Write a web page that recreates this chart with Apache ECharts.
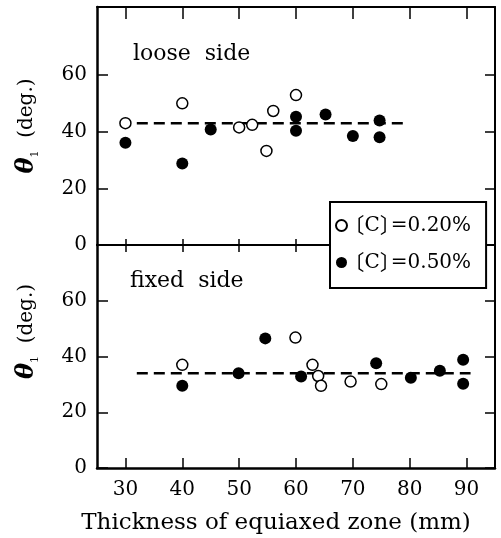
<!DOCTYPE html>
<html>
<head>
<meta charset="utf-8">
<style>
  html, body { margin: 0; padding: 0; background: #fff; }
  #chart { width: 501px; height: 538px; }
</style>
<script src="https://cdn.jsdelivr.net/npm/echarts@6/dist/echarts.min.js"></script>
</head>
<body>
<div id="chart"></div>
<script>
// Tick positions shared by both panels
const xTicks = [30, 40, 50, 60, 70, 80, 90];
const yTicks = [0, 20, 40, 60];

// Loose side: inclination angle θ1 (deg.) vs. equiaxed zone thickness (mm)
const looseC020 = [[30, 43], [40, 50], [50, 41.5], [52.3, 42.4], [54.8, 33.2], [56, 47.3], [60, 52.9]];
const looseC050 = [[30, 36.1], [40, 28.8], [45, 40.8], [60, 45.3], [60, 40.3], [65.2, 46.1], [70, 38.5], [74.7, 43.9], [74.7, 38]];
const looseMean = [[32, 43], [79.5, 43]];

// Fixed side
const fixedC020 = [[40, 37], [59.9, 46.8], [62.9, 37], [63.9, 33], [64.4, 29.5], [69.6, 31], [75, 30.1]];
const fixedC050 = [[40, 29.5], [49.9, 34], [54.6, 46.5], [60.9, 32.8], [74.1, 37.6], [80.2, 32.4], [85.3, 34.9], [89.4, 38.8], [89.4, 30.2]];
const fixedMean = [[32, 34], [90.7, 34]];

const nameC020 = '〔C〕=0.20%';
const nameC050 = '〔C〕=0.50%';

const SERIF = "'DejaVu Serif', 'Liberation Serif', serif";
const CJK = "'Noto Sans CJK JP', sans-serif";

function xAxisDef(grid, pos, tickLen, showLabels) {
  return {
    type: 'value', gridIndex: grid, position: pos, min: 25, max: 95,
    axisLine: { onZero: false, lineStyle: { color: '#000', width: pos === 'bottom' && grid === 1 ? 2.5 : 2 } },
    axisTick: { inside: true, length: tickLen, customValues: xTicks, lineStyle: { color: '#000', width: 1.5 } },
    axisLabel: {
      show: showLabels, customValues: xTicks, margin: 12,
      fontFamily: SERIF, fontSize: 20, color: '#000'
    },
    splitLine: { show: false }
  };
}

function yAxisDef(grid, pos, max, tickLen, showLabels) {
  return {
    type: 'value', gridIndex: grid, position: pos, min: 0, max: max,
    axisLine: { onZero: false, lineStyle: { color: '#000', width: pos === 'left' ? 2.5 : 2 } },
    axisTick: { inside: true, length: tickLen, customValues: yTicks, lineStyle: { color: '#000', width: 1.5 } },
    axisLabel: {
      show: showLabels, customValues: yTicks, margin: 10,
      fontFamily: SERIF, fontSize: 20, color: '#000'
    },
    splitLine: { show: false }
  };
}

const thetaName = '{t|θ}{s|1}{d|  (deg.)}';
const thetaRich = {
  t: { fontFamily: SERIF, fontStyle: 'italic', fontWeight: 'bold', fontSize: 24, color: '#000', lineHeight: 28 },
  s: { fontFamily: SERIF, fontSize: 11, color: '#000', verticalAlign: 'bottom', lineHeight: 14 },
  d: { fontFamily: SERIF, fontSize: 20, color: '#000', lineHeight: 28 }
};

const yTop = yAxisDef(0, 'left', 84, 11, true);
yTop.name = thetaName;
yTop.nameLocation = 'middle';
yTop.nameGap = 56;
yTop.nameTextStyle = { rich: thetaRich, padding: [0, 0, 0, 0] };

const yBottom = yAxisDef(1, 'left', 80, 11, true);
yBottom.name = thetaName;
yBottom.nameLocation = 'middle';
yBottom.nameGap = 56;
yBottom.nameTextStyle = { rich: thetaRich, padding: [0, 0, 0, 50] };

const xBottom = xAxisDef(1, 'bottom', 10, true);
xBottom.name = 'Thickness of equiaxed zone (mm)';
xBottom.nameLocation = 'middle';
xBottom.nameGap = 44;
xBottom.nameTextStyle = { fontFamily: SERIF, fontSize: 23, color: '#000', padding: [0, 40, 0, 0] };

const openStyle = { color: '#fff', borderColor: '#000', borderWidth: 1.5, opacity: 1 };
const filledStyle = { color: '#000', opacity: 1 };
const meanLine = { color: '#000', width: 2.5, type: [11, 6] };

// Legend entry: the full-width brackets are trimmed to their visible half
function legendLabel(name) {
  const m = name.match(/^〔(.*)〕(.*)$/);
  if (!m) return name;
  return '{lb|〔}{c|' + m[1] + '}{rb|〕}{v|' + m[2] + '}';
}

const chart = echarts.init(document.getElementById('chart'), null, { renderer: 'canvas' });
chart.setOption({
  animation: false,
  backgroundColor: '#fff',
  grid: [
    { left: 97, right: 6, top: 7, height: 238, containLabel: false },
    { left: 97, right: 6, top: 245, bottom: 70, containLabel: false }
  ],
  xAxis: [
    xAxisDef(0, 'bottom', 6, false),
    xAxisDef(0, 'top', 12, false),
    xBottom,
    xAxisDef(1, 'top', 7, false)
  ],
  yAxis: [
    yTop,
    yAxisDef(0, 'right', 84, 10, false),
    yBottom,
    yAxisDef(1, 'right', 80, 10, false)
  ],
  legend: {
    orient: 'vertical', left: 330, top: 202,
    padding: [13, 15, 15, 5], itemGap: 16,
    itemWidth: 16, itemHeight: 11,
    borderColor: '#000', borderWidth: 2, backgroundColor: '#fff',
    selectedMode: false,
    formatter: legendLabel,
    textStyle: {
      fontFamily: SERIF, fontSize: 20, color: '#000',
      rich: {
        lb: { fontFamily: CJK, fontSize: 21, color: '#000', padding: [0, 0, 0, -11] },
        c: { fontFamily: SERIF, fontSize: 20, color: '#000' },
        rb: { fontFamily: CJK, fontSize: 21, color: '#000', padding: [0, -10, 0, 0] },
        v: { fontFamily: SERIF, fontSize: 20, color: '#000' }
      }
    },
    data: [nameC020, nameC050]
  },
  graphic: [
    { type: 'text', left: 133, top: 43, style: { text: 'loose  side', font: "22px 'DejaVu Serif'", fill: '#000' } },
    { type: 'text', left: 130, top: 270, style: { text: 'fixed  side', font: "22px 'DejaVu Serif'", fill: '#000' } }
  ],
  series: [
    { name: 'loose mean', type: 'line', xAxisIndex: 0, yAxisIndex: 0, data: looseMean, symbol: 'none', lineStyle: meanLine, z: 1, silent: true },
    { name: nameC020, type: 'scatter', xAxisIndex: 0, yAxisIndex: 0, data: looseC020, symbol: 'circle', symbolSize: 11, itemStyle: openStyle, z: 3 },
    { name: nameC050, type: 'scatter', xAxisIndex: 0, yAxisIndex: 0, data: looseC050, symbol: 'circle', symbolSize: 12, itemStyle: filledStyle, z: 3 },
    { name: 'fixed mean', type: 'line', xAxisIndex: 2, yAxisIndex: 2, data: fixedMean, symbol: 'none', lineStyle: meanLine, z: 1, silent: true },
    { name: nameC020, type: 'scatter', xAxisIndex: 2, yAxisIndex: 2, data: fixedC020, symbol: 'circle', symbolSize: 11, itemStyle: openStyle, z: 3 },
    { name: nameC050, type: 'scatter', xAxisIndex: 2, yAxisIndex: 2, data: fixedC050, symbol: 'circle', symbolSize: 12, itemStyle: filledStyle, z: 3 }
  ]
});
</script>
</body>
</html>
